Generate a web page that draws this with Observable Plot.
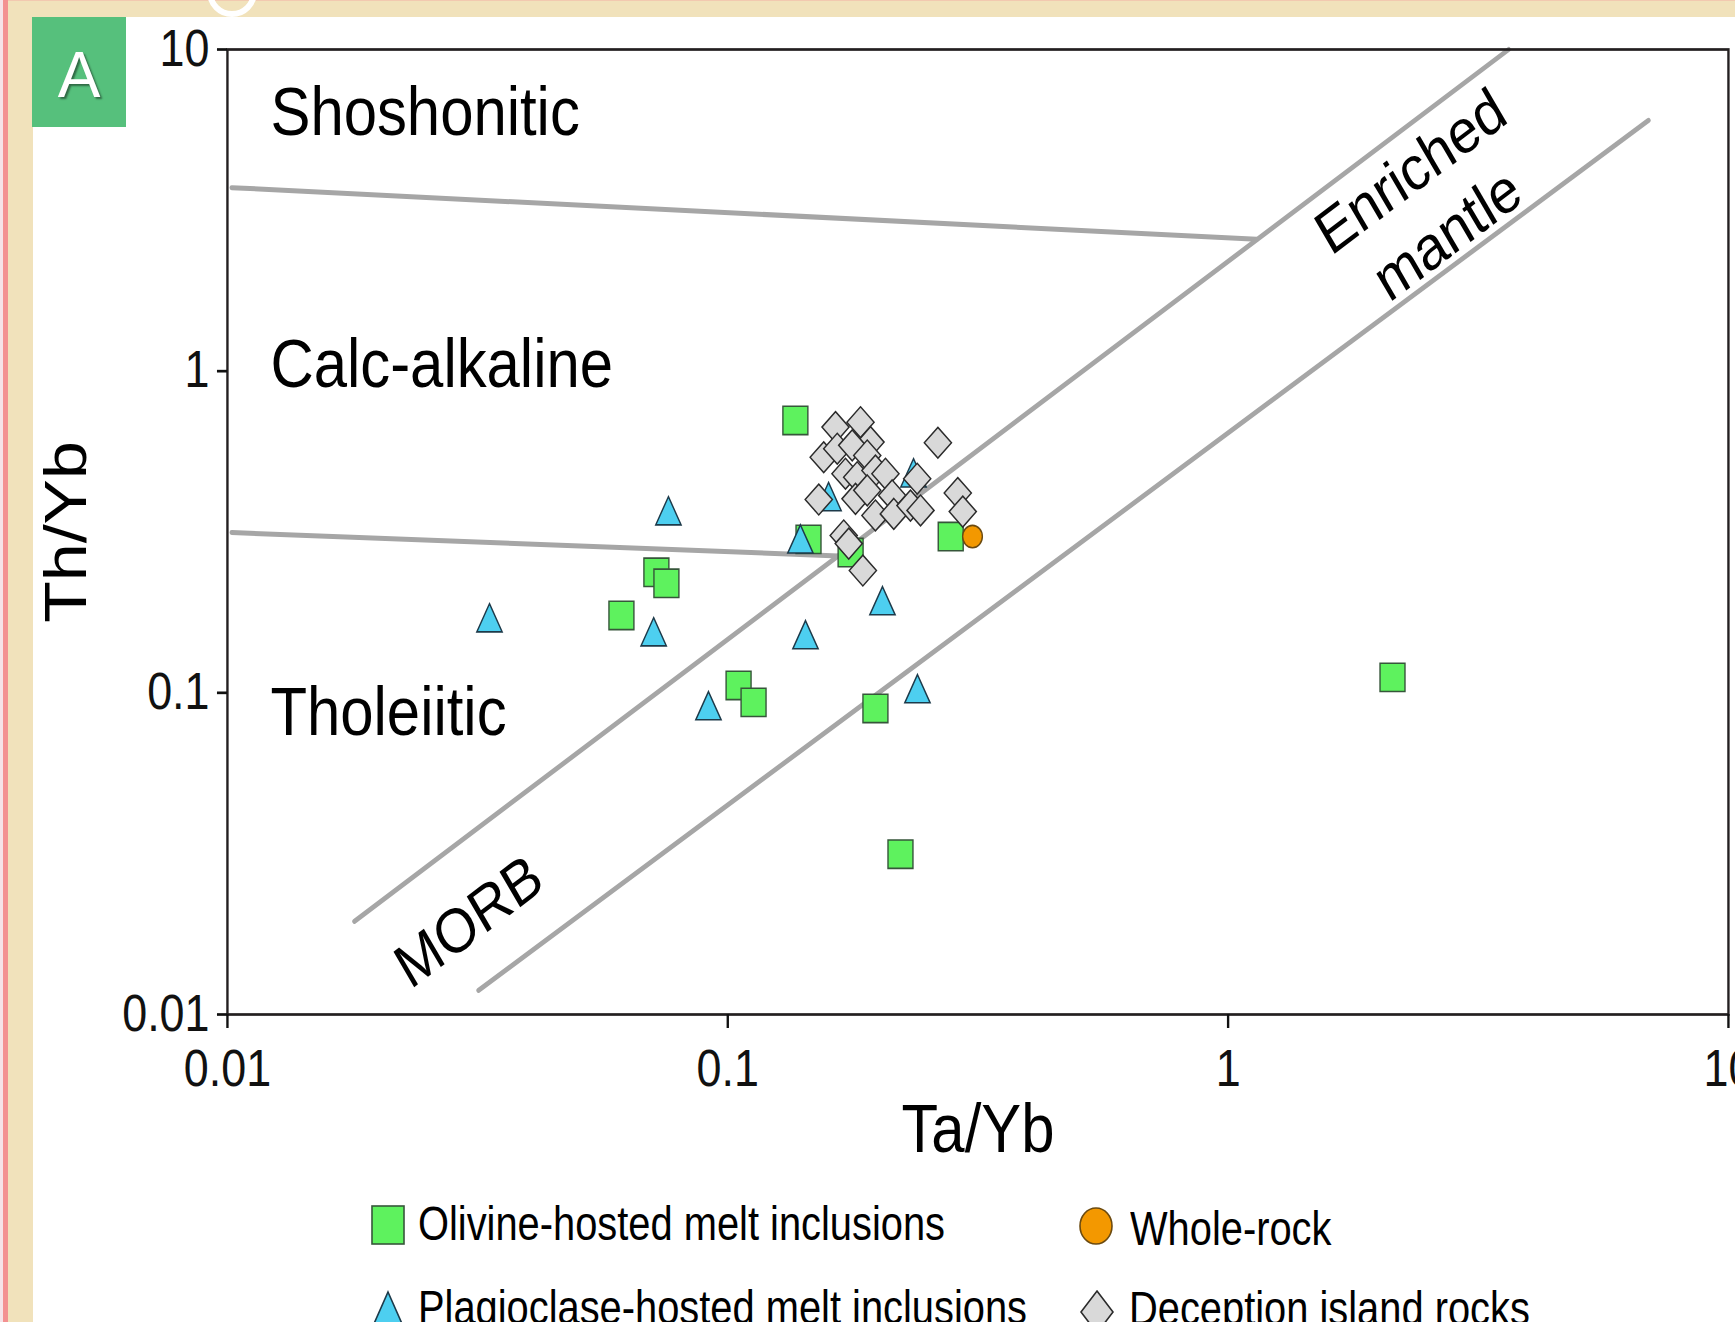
<!DOCTYPE html>
<html>
<head>
<meta charset="utf-8">
<script src="https://cdn.jsdelivr.net/npm/d3@7"></script>
<script src="https://cdn.jsdelivr.net/npm/@observablehq/plot@0.6"></script>
<style>
  html, body { margin: 0; padding: 0; width: 1735px; height: 1322px; overflow: hidden; background: #fff;
    font-family: "Liberation Sans", Arial, Helvetica, sans-serif; }
  #page { position: relative; width: 1735px; height: 1322px; overflow: hidden; background: #fff; }
  .strip { position: absolute; }
  #chart { position: absolute; left: 33px; top: 17px; }
  .leg { position: absolute; font-size: 48px; line-height: 48px; white-space: nowrap;
    transform: scaleX(0.83); transform-origin: 0 0; color: #000; }
  .sym { position: absolute; overflow: visible; }
  #panel { position: absolute; left: 32px; top: 17px; width: 94px; height: 110px; background: #56c07c; }
  #panel span { position: absolute; left: 0; width: 94px; top: 26px; text-align: center; font-size: 64px;
    line-height: 64px; color: #fff; text-shadow: 2px 2px 2px rgba(0,0,0,0.45); }
  #ring { position: absolute; left: 207px; top: -33px; width: 50px; height: 50px; border: 6px solid #fff;
    border-radius: 50%; box-sizing: border-box; }
</style>
</head>
<body>
<div id="page">
  <div class="strip" style="left:0;top:0;width:3px;height:1322px;background:#f6e3e8"></div>
  <div class="strip" style="left:3px;top:0;width:5px;height:1322px;background:#f39191"></div>
  <div class="strip" style="left:8px;top:0;width:25px;height:1322px;background:#f1e2bb"></div>
  <div class="strip" style="left:8px;top:0;width:1727px;height:17px;background:#f1e2bb"></div>
  <div class="strip" style="left:8px;top:0;width:1727px;height:1px;background:#f2c9b0"></div>
  <div id="ring"></div>
  <div id="panel"><span>A</span></div>
  <div id="chart"></div>
  <div id="legend"></div>
</div>
<script>
// ---------------- DATA ----------------
const categories = [
  "Olivine-hosted melt inclusions",
  "Whole-rock",
  "Plagioclase-hosted melt inclusions",
  "Deception island rocks"
];

// [Ta/Yb, Th/Yb]
const olivine = [
  [0.1365, 0.703], [0.145, 0.300], [0.176, 0.273], [0.279, 0.306],
  [0.0720, 0.237], [0.0754, 0.219], [0.0613, 0.174], [0.1051, 0.1054],
  [0.1126, 0.0934], [0.1973, 0.0894], [0.2214, 0.0315], [2.131, 0.1117]
];
const plagioclase = [
  [0.0334, 0.1655], [0.0761, 0.356], [0.0711, 0.1497], [0.0915, 0.0882],
  [0.1397, 0.291], [0.1430, 0.1466], [0.1590, 0.394], [0.2038, 0.187],
  [0.2351, 0.467], [0.2394, 0.0996]
];
const wholeRock = [[0.3084, 0.306]];
const deception = [
  [0.1642, 0.670], [0.1842, 0.694], [0.1929, 0.602], [0.1555, 0.540],
  [0.1655, 0.574], [0.1773, 0.588], [0.1900, 0.547], [0.1719, 0.480],
  [0.1814, 0.468], [0.1973, 0.491], [0.2066, 0.480], [0.2391, 0.463],
  [0.2630, 0.599], [0.1520, 0.399], [0.1800, 0.401], [0.1900, 0.426],
  [0.1973, 0.356], [0.2131, 0.411], [0.2147, 0.360], [0.2318, 0.382],
  [0.2428, 0.369], [0.2882, 0.418], [0.2949, 0.366], [0.1705, 0.3085],
  [0.1745, 0.291], [0.1862, 0.240]
];

// field boundaries (Ta/Yb, Th/Yb endpoints)
const boundaries = [
  {id: "shoshonitic", x: 0.0102, y: 3.72}, {id: "shoshonitic", x: 1.14, y: 2.57},
  {id: "tholeiitic", x: 0.0102, y: 0.315}, {id: "tholeiitic", x: 0.1665, y: 0.2664},
  {id: "morbUpper", x: 0.01794, y: 0.01948}, {id: "morbUpper", x: 3.636, y: 10},
  {id: "morbLower", x: 0.03176, y: 0.01189}, {id: "morbLower", x: 6.92, y: 6.02}
];

const fieldLabels = [
  {label: "Shoshonitic", x: 0.01219, y: 7.67},
  {label: "Calc-alkaline", x: 0.01219, y: 1.264},
  {label: "Tholeiitic", x: 0.01219, y: 0.1047}
];
const bandLabels = [
  {label: "Enriched\nmantle", x: 2.50, y: 3.40},
  {label: "MORB", x: 0.0301, y: 0.0199}
];

const tickValues = [0.01, 0.1, 1, 10];
const tickLabels = ["0.01", "0.1", "1", "10"];
const xLabel = "Ta/Yb";
const yLabel = "Th/Yb";

// ---------------- LAYOUT ----------------
const k = 0.88;                       // horizontal compression of the original figure
const svgX = 33, svgY = 17, svgW = 1702, svgH = 1170;
const frameL = 227, frameR = 1728, frameT = 49, frameB = 1014;
const Wl = svgW / k;
const mL = (frameL - svgX) / k;
const mR = Wl - (frameR - svgX) / k;
const mT = frameT - svgY;
const mB = svgH - (frameB - svgY);

const toRows = (arr) => arr.map(([x, y]) => ({x, y}));

const triangleUp = {
  draw(context, size) {
    const r = Math.sqrt(size / Math.PI);
    const h = 2.35 * r, b = 2.4 * r;
    context.moveTo(0, -2 * h / 3);
    context.lineTo(b / 2, h / 3);
    context.lineTo(-b / 2, h / 3);
    context.closePath();
  }
};

const colors = {
  olivine: "#5ef25e", olivineStroke: "#36563a",
  plag: "#4dcff0", plagStroke: "#1d3a4a",
  dec: "#d9d9d9", decStroke: "#2b2b2b",
  whole: "#f39800", wholeStroke: "#6b4a10"
};
const font = '"Liberation Sans", Arial, Helvetica, sans-serif';

const chart = Plot.plot({
  width: Wl,
  height: svgH,
  marginLeft: mL, marginRight: mR, marginTop: mT, marginBottom: mB,
  x: {type: "log", domain: [0.01, 10], label: null},
  y: {type: "log", domain: [0.01, 10], label: null},
  style: {fontFamily: font, background: "transparent", color: "#000"},
  marks: [
    Plot.line(boundaries, {x: "x", y: "y", z: "id", stroke: "#a6a6a6", strokeWidth: 5, strokeLinecap: "round"}),
    Plot.frame({stroke: "#231f20", strokeWidth: 2.7}),
    Plot.axisX(tickValues, {anchor: "bottom", tickSize: 14, tickPadding: 21, fontSize: 51,
      tickFormat: (d) => tickLabels[tickValues.indexOf(d)], color: "#111", strokeWidth: 2.7, label: null}),
    Plot.axisY(tickValues, {anchor: "left", tickSize: 11.4, tickPadding: 9, fontSize: 51,
      tickFormat: (d) => tickLabels[tickValues.indexOf(d)], color: "#111", strokeWidth: 2.7, label: null}),
    Plot.dot(toRows(olivine), {x: "x", y: "y", symbol: "square", r: 16,
      fill: colors.olivine, stroke: colors.olivineStroke, strokeWidth: 1.6}),
    Plot.dot(toRows(plagioclase), {x: "x", y: "y", symbol: triangleUp, r: 12,
      fill: colors.plag, stroke: colors.plagStroke, strokeWidth: 1.6}),
    Plot.dot(toRows(deception), {x: "x", y: "y", symbol: "diamond2", r: 13.9,
      fill: colors.dec, stroke: colors.decStroke, strokeWidth: 1.6}),
    Plot.dot(toRows(wholeRock), {x: "x", y: "y", symbol: "circle", r: 11.2,
      fill: colors.whole, stroke: colors.wholeStroke, strokeWidth: 1.6}),
    Plot.text(fieldLabels, {x: "x", y: "y", text: "label", textAnchor: "start", lineAnchor: "top",
      fontSize: 68, fill: "#000"}),
    Plot.text(bandLabels, {x: "x", y: "y", text: "label", textAnchor: "middle", lineAnchor: "middle",
      rotate: -33.6, fontSize: 62, lineHeight: 1.22, fill: "#000"}),
    Plot.text([xLabel], {text: (d) => d, frameAnchor: "bottom", textAnchor: "middle", lineAnchor: "top",
      dy: 89, fontSize: 68, fill: "#000"}),
    Plot.text([yLabel], {text: (d) => d, frameAnchor: "left", textAnchor: "middle", lineAnchor: "top",
      rotate: -90, dx: -(mL - 11), fontSize: 68, fill: "#000"})
  ]
});

chart.setAttribute("preserveAspectRatio", "none");
chart.style.width = svgW + "px";
chart.style.height = svgH + "px";
chart.style.maxWidth = "none";
chart.style.overflow = "hidden";
document.getElementById("chart").appendChild(chart);

// ---------------- LEGEND ----------------
const legend = document.getElementById("legend");
const ns = "http://www.w3.org/2000/svg";
function symbolSvg(left, top, w, h, shape) {
  const s = document.createElementNS(ns, "svg");
  s.setAttribute("class", "sym");
  s.setAttribute("width", w); s.setAttribute("height", h);
  s.style.left = left + "px"; s.style.top = top + "px";
  s.innerHTML = shape;
  legend.appendChild(s);
}
function legendText(left, top, text) {
  const d = document.createElement("div");
  d.className = "leg";
  d.style.left = left + "px"; d.style.top = top + "px";
  d.textContent = text;
  legend.appendChild(d);
}
symbolSvg(371, 1205, 34, 40,
  `<rect x="1" y="1" width="32" height="38" fill="${colors.olivine}" stroke="${colors.olivineStroke}" stroke-width="1.6"/>`);
legendText(418, 1200, categories[0]);
symbolSvg(1079, 1207, 34, 38,
  `<ellipse cx="17" cy="19" rx="16" ry="18" fill="${colors.whole}" stroke="${colors.wholeStroke}" stroke-width="1.6"/>`);
legendText(1130, 1205, categories[1]);
symbolSvg(368, 1291, 40, 45,
  `<polygon points="20,1 39,44 1,44" fill="${colors.plag}" stroke="${colors.plagStroke}" stroke-width="1.6"/>`);
legendText(418, 1284, categories[2]);
symbolSvg(1080, 1290, 34, 44,
  `<polygon points="17,1 33,22 17,43 1,22" fill="${colors.dec}" stroke="${colors.decStroke}" stroke-width="1.6"/>`);
legendText(1129, 1285, categories[3]);
</script>
</body>
</html>
